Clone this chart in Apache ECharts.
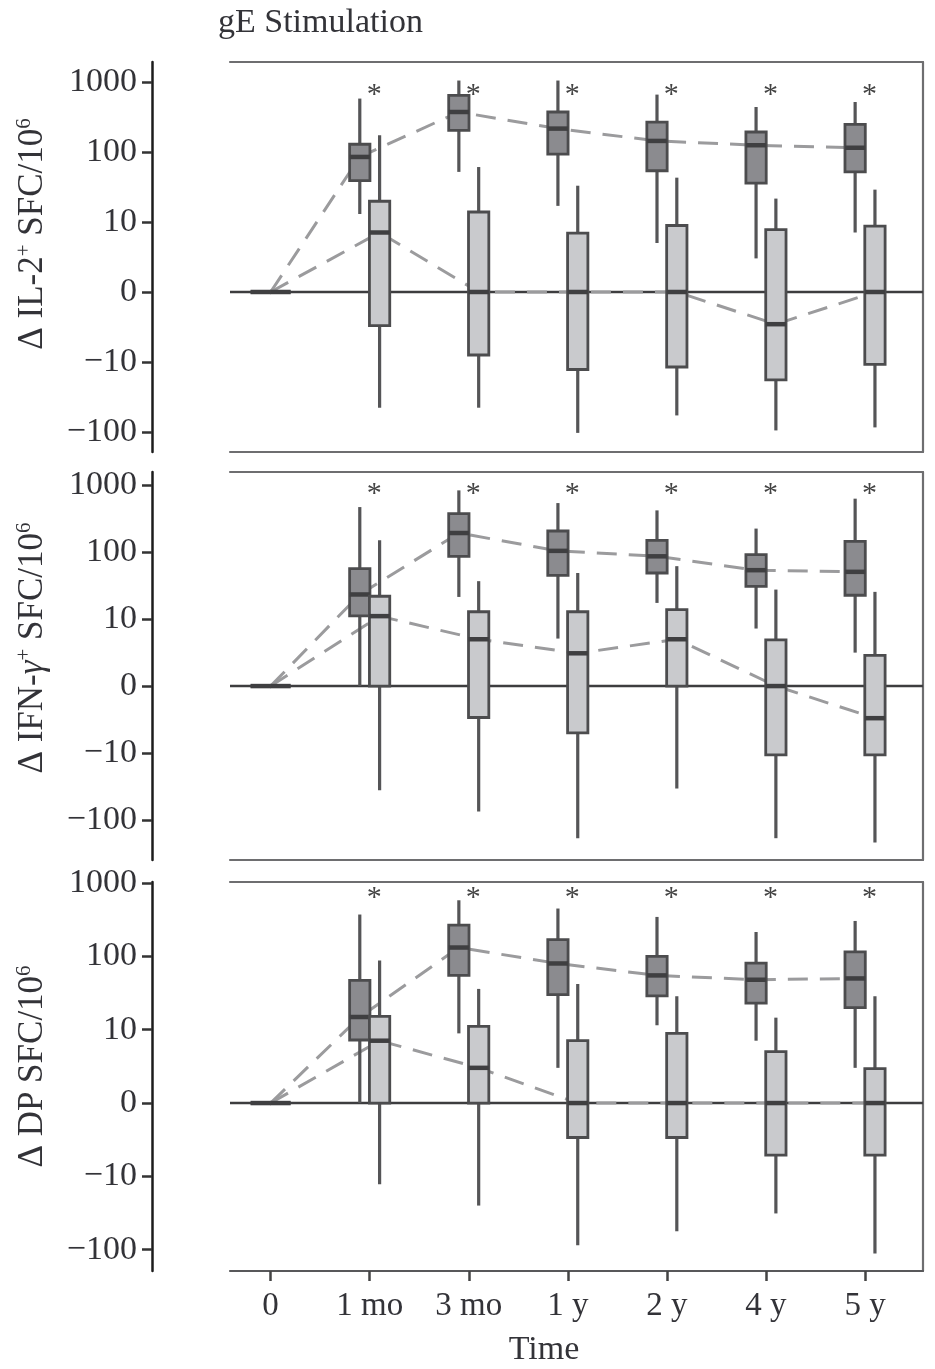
<!DOCTYPE html>
<html>
<head>
<meta charset="utf-8">
<script src="https://cdn.jsdelivr.net/npm/echarts@6/dist/echarts.min.js"></script>
<style>
  html, body { margin: 0; padding: 0; background: #ffffff; }
  #chart { width: 935px; height: 1369px; }
</style>
</head>
<body>
<div id="chart"></div>
<script>
// Time points on the x axis
const timePoints = ['0', '1 mo', '3 mo', '1 y', '2 y', '4 y', '5 y'];
// Tick values on every y axis (drawn on a symmetric log scale)
const yTickValues = [-100, -10, 0, 10, 100, 1000];

// Box statistics per time point: [lower whisker, Q1, median, Q3, upper whisker]
const il2GroupA = [
  [0, 0, 0, 0, 0],
  [13, 39, 85, 129, 580],
  [52, 204, 373, 645, 1050],
  [17, 93, 216, 373, 1050],
  [7, 54, 144, 268, 661],
  [4.8, 36, 125, 193, 440],
  [8.5, 52, 115, 249, 518]
];
const il2GroupB = [
  [0, 0, 0, 0, 0],
  [-45, -4.8, 8.5, 19.8, 173],
  [-45, -9, 0, 13.9, 61],
  [-103, -12.8, 0, 8.4, 33],
  [-58, -11.8, 0, 9.5, 43],
  [-95, -18, -4.6, 8.9, 21.6],
  [-86, -10.8, 0, 9.4, 29]
];
const ifnGroupA = [
  [0, 0, 0, 0, 0],
  [0, 11.2, 23.4, 57, 474],
  [21.5, 87, 194, 378, 842],
  [7.1, 45, 105, 208, 544],
  [17.5, 49, 87, 151, 423],
  [8.6, 31, 54, 92, 226],
  [5, 22.8, 51, 146, 633]
];
const ifnGroupB = [
  [0, 0, 0, 0, 0],
  [-36, 0, 11.1, 22, 151],
  [-75, -4.7, 7.0, 12.9, 37],
  [-188, -7, 4.9, 12.9, 49],
  [-34, 0, 7.0, 13.9, 62],
  [-188, -10.7, 0, 6.9, 27.7],
  [-218, -10.7, -4.8, 4.6, 25.6]
];
const dpGroupA = [
  [0, 0, 0, 0, 0],
  [0, 8.6, 14.9, 47, 372],
  [9.5, 55, 132, 266, 582],
  [4.8, 30, 80, 169, 449],
  [11.5, 29, 55, 100, 345],
  [8.5, 23, 48, 81, 215],
  [4.8, 20, 50, 115, 304]
];
const dpGroupB = [
  [0, 0, 0, 0, 0],
  [-12.8, 0, 8.5, 15.2, 88],
  [-25, 0, 4.8, 11.1, 36],
  [-87, -4.7, 0, 8.5, 42],
  [-56, -4.7, 0, 9.5, 28.6],
  [-32, -7.1, 0, 7.0, 14.6],
  [-113, -7.1, 0, 4.7, 28.6]
];
// Significance marks (asterisk) per time point
const il2Significant = [false, true, true, true, true, true, true];
const ifnSignificant = [false, true, true, true, true, true, true];
const dpSignificant = [false, true, true, true, true, true, true];

// Symmetric log transform: linear between -10 and 10, log10 beyond
function symlog(v) {
  const a = Math.abs(v);
  if (a <= 10) return v / 10;
  return Math.sign(v) * Math.log10(a);
}
function symlogLabel(t) {
  const r = Math.round(t);
  if (r === 0) return '0';
  const v = Math.round(Math.pow(10, Math.abs(r)));
  return (r < 0 ? '\u2212' : '') + v;
}

const FONT = "'Liberation Serif', 'DejaVu Serif', serif";
const TEXT = '#333338';
const FRAME = '#6e6e70';
const X_MIN = -0.41, X_MAX = 6.585;
const OFF_A = -0.1, OFF_B = 0.1, BOX_W = 0.205;

const panels = [
  { label: '{t|\u0394 IL-2}{s|+}{t| SFC/10}{s|6}', a: il2GroupA, b: il2GroupB, sig: il2Significant,
    top: 62, height: 390, min: -2.286, max: 3.286, starT: 2.81, namePad: 46 },
  { label: '{t|\u0394 IFN-}{i|\u03b3}{s|+}{t| SFC/10}{s|6}', a: ifnGroupA, b: ifnGroupB, sig: ifnSignificant,
    top: 472, height: 388, min: -2.6, max: 3.2, starT: 2.87, namePad: 36 },
  { label: '{t|\u0394 DP SFC/10}{s|6}', a: dpGroupA, b: dpGroupB, sig: dpSignificant,
    top: 882, height: 389, min: -2.29, max: 3.014, starT: 2.79, namePad: 20 }
];

const tickPositions = timePoints.map((_, i) => i);
const yTickPositions = yTickValues.map(symlog);

function boxRenderer(offset, fill) {
  return function (params, api) {
    const x = api.value(0) + offset;
    const pLow = api.coord([x, api.value(1)]);
    const pQ1 = api.coord([x, api.value(2)]);
    const pMed = api.coord([x, api.value(3)]);
    const pQ3 = api.coord([x, api.value(4)]);
    const pHigh = api.coord([x, api.value(5)]);
    const w = api.size([BOX_W, 0])[0];
    const cx = pMed[0];
    return {
      type: 'group',
      children: [
        { type: 'line', shape: { x1: cx, y1: pLow[1], x2: cx, y2: pHigh[1] },
          style: { stroke: '#555557', lineWidth: 3.2 } },
        { type: 'rect', shape: { x: cx - w / 2, y: pQ3[1], width: w, height: pQ1[1] - pQ3[1] },
          style: { fill: fill, stroke: '#4c4c4e', lineWidth: 2.8 } },
        { type: 'line', shape: { x1: cx - w / 2, y1: pMed[1], x2: cx + w / 2, y2: pMed[1] },
          style: { stroke: '#3f3f41', lineWidth: 4.5 } }
      ]
    };
  };
}

function starRenderer(params, api) {
  const p = api.coord([api.value(0) + 0.045, api.value(1)]);
  return {
    type: 'text',
    x: p[0], y: p[1],
    style: { text: '*', fontSize: 30, fontFamily: FONT, fill: '#444', align: 'center', verticalAlign: 'middle' }
  };
}

const grid = [], xAxis = [], yAxis = [], series = [];
panels.forEach((p, k) => {
  const last = k === panels.length - 1;
  grid.push({ left: 230, right: 12, top: p.top, height: p.height, show: false });
  // data x axis along the bottom edge of the frame
  xAxis.push({
    type: 'value', gridIndex: k, min: X_MIN, max: X_MAX, position: 'bottom',
    splitLine: { show: false },
    axisLine: { show: true, onZero: false, lineStyle: { color: last ? '#58585a' : FRAME, width: 2.2 } },
    axisTick: { show: last, customValues: tickPositions, length: 10, lineStyle: { color: '#444', width: 2.5 } },
    axisLabel: { show: last, customValues: tickPositions, formatter: v => timePoints[Math.round(v)],
      fontSize: 33, fontFamily: FONT, color: TEXT, margin: 19 }
  });
  // top edge of the frame
  xAxis.push({
    type: 'value', gridIndex: k, min: X_MIN, max: X_MAX, position: 'top',
    splitLine: { show: false }, axisTick: { show: false }, axisLabel: { show: false },
    axisLine: { show: true, onZero: false, lineStyle: { color: FRAME, width: 2.2 } }
  });
  // data y axis, set off to the left of the frame
  yAxis.push({
    type: 'value', gridIndex: k, min: p.min, max: p.max, offset: 78, position: 'left',
    splitLine: { show: false },
    axisLine: { show: true, onZero: false, lineStyle: { color: '#1c1c1c', width: 2.5 } },
    axisTick: { show: true, customValues: yTickPositions, length: 10, lineStyle: { color: '#333', width: 2.5 } },
    axisLabel: { customValues: yTickPositions, formatter: symlogLabel,
      fontSize: 34, fontFamily: FONT, color: TEXT, margin: 15 },
    name: p.label, nameLocation: 'middle', nameRotate: 90, nameGap: 100,
    nameTextStyle: {
      padding: [0, 0, 0, p.namePad],
      rich: {
        t: { fontSize: 35, fontFamily: FONT, color: TEXT, lineHeight: 38 },
        i: { fontSize: 35, fontFamily: FONT, fontStyle: 'italic', color: TEXT, lineHeight: 38 },
        s: { fontSize: 21, fontFamily: FONT, color: TEXT, verticalAlign: 'top', lineHeight: 22 }
      }
    }
  });
  // right edge of the frame
  yAxis.push({
    type: 'value', gridIndex: k, min: p.min, max: p.max, position: 'right',
    splitLine: { show: false }, axisTick: { show: false }, axisLabel: { show: false },
    axisLine: { show: true, onZero: false, lineStyle: { color: FRAME, width: 2.2 } }
  });

  const xi = 2 * k, yi = 2 * k;
  // zero reference line across the panel
  series.push({
    type: 'line', xAxisIndex: xi, yAxisIndex: yi, z: 1, silent: true,
    symbol: 'none', data: [[X_MIN, 0], [X_MAX, 0]],
    lineStyle: { color: '#3d3d3f', width: 2.6 }
  });
  // dashed median trend lines
  [[p.a, OFF_A], [p.b, OFF_B]].forEach(([d, off]) => {
    series.push({
      type: 'line', xAxisIndex: xi, yAxisIndex: yi, z: 2, silent: true,
      symbol: 'none',
      data: d.map((s, i) => [i === 0 ? 0 : i + off, symlog(s[2])]),
      lineStyle: { color: '#9b9b9d', width: 3, type: [20, 12] }
    });
  });
  // boxes
  [[p.a, OFF_A, '#8b8b8f'], [p.b, OFF_B, '#c9cacd']].forEach(([d, off, fill]) => {
    series.push({
      type: 'custom', xAxisIndex: xi, yAxisIndex: yi, z: 3, silent: true,
      renderItem: boxRenderer(off, fill),
      encode: { x: 0, y: [1, 2, 3, 4, 5] },
      data: d.map((s, i) => [i].concat(s.map(symlog)))
    });
  });
  // significance asterisks
  series.push({
    type: 'custom', xAxisIndex: xi, yAxisIndex: yi, z: 4, silent: true,
    renderItem: starRenderer,
    encode: { x: 0, y: 1 },
    data: p.sig.map((s, i) => s ? [i, p.starT] : null).filter(Boolean)
  });
});

const chart = echarts.init(document.getElementById('chart'), null, { renderer: 'canvas' });
chart.setOption({
  animation: false,
  backgroundColor: '#ffffff',
  title: [
    { text: 'gE Stimulation', left: 213, top: 1,
      textStyle: { fontSize: 34, fontWeight: 'normal', fontFamily: FONT, color: TEXT } },
    { text: 'Time', left: 539, top: 1328, textAlign: 'center',
      textStyle: { fontSize: 34, fontWeight: 'normal', fontFamily: FONT, color: TEXT } }
  ],
  grid: grid,
  xAxis: xAxis,
  yAxis: yAxis,
  series: series
});
</script>
</body>
</html>
